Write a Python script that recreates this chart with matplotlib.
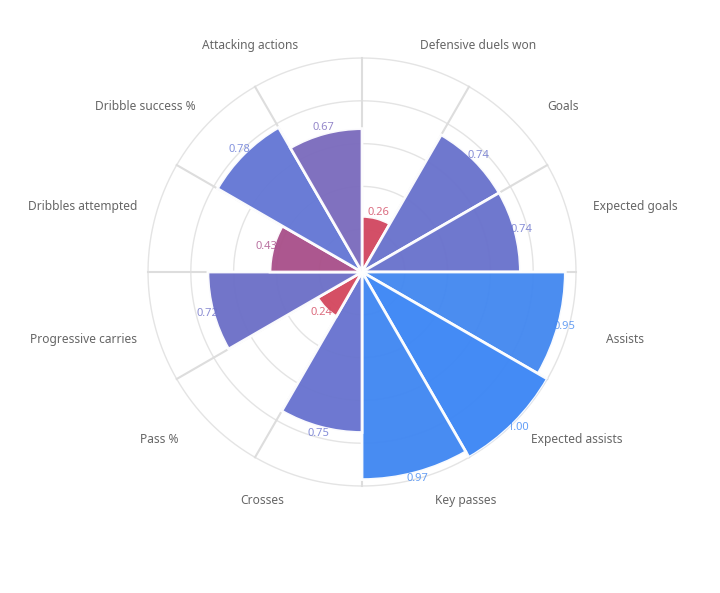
import matplotlib
matplotlib.use("Agg")
import matplotlib.pyplot as plt
import numpy as np
from matplotlib.colors import LinearSegmentedColormap

categories = ["Defensive duels won", "Goals", "Expected goals", "Assists",
              "Expected assists", "Key passes", "Crosses", "Pass %",
              "Progressive carries", "Dribbles attempted", "Dribble success %",
              "Attacking actions"]
values = [0.26, 0.74, 0.74, 0.95, 1.00, 0.97, 0.75, 0.24, 0.72, 0.43, 0.78, 0.67]
grid_levels = [0.2, 0.4, 0.6, 0.8, 1.0]

# red -> purple -> blue, like the value colour scale of the original
cmap = LinearSegmentedColormap.from_list("pizza", [
    (0.00, "#d8465e"),
    (0.25, "#d4485f"),
    (0.43, "#a9508a"),
    (0.67, "#7b6bbd"),
    (0.72, "#6c6fc7"),
    (0.78, "#6477d5"),
    (0.95, "#4388f0"),
    (1.00, "#3c86f5"),
])

plt.rcParams['font.family'] = ['Noto Sans', 'DejaVu Sans']

fig = plt.figure(figsize=(7.2, 5.93), dpi=100)
ax = fig.add_axes([0.2056, 0.1804, 0.5944, 0.7218], projection='polar')
ax.set_theta_zero_location('N')
ax.set_theta_direction(-1)
ax.set_ylim(0, 1.0)

n = len(categories)
step = 2 * np.pi / n
edges = np.arange(n) * step
mids = edges + step / 2

# grid
ax.grid(False)
ax.spines['polar'].set_visible(False)
ax.set_xticks([])
ax.set_yticks([])
circ = np.linspace(0, 2 * np.pi, 400)
for lvl in grid_levels:
    ax.plot(circ, np.full_like(circ, lvl), color='#e4e4e4', lw=1.0, zorder=1,
            clip_on=False)
for e in edges:
    ax.plot([e, e], [0, 1.0], color='#dddddd', lw=1.5, zorder=1, clip_on=False)

colors = [cmap(v) for v in values]
ax.bar(edges, values, width=step, align='edge', color=colors, alpha=0.96,
       edgecolor='white', linewidth=2, zorder=2)

for t, v, c in zip(mids, values, colors):
    ax.text(t, v + 0.03, f"{v:.2f}", ha='center', va='center', fontsize=8,
            color=c, alpha=0.8, zorder=3)

# category names around the ring; short names sit a bit further out
labels = []
for t, name in zip(mids, categories):
    ha = 'left' if np.sin(t) > 0 else 'right'
    ann = ax.annotate(name, (0, 0), xytext=(0, 0), textcoords='offset points',
                      ha=ha, va='center', fontsize=8.6, color='#666666',
                      annotation_clip=False)
    labels.append(ann)

fig.canvas.draw()
px = 72 / fig.dpi
for t, ann in zip(mids, labels):
    w = ann.get_window_extent().width
    side = np.sign(np.sin(t))
    dx = 232 * np.sin(t) + side * 0.27 * (110 - w)
    dy = 236 * np.cos(t)
    if abs(np.cos(t)) < 0.5:
        dy += 5 * np.sign(np.cos(t))
    ann.xyann = (dx * px, (dy - 1) * px)

fig.savefig("out.png", dpi=100, facecolor='white')
